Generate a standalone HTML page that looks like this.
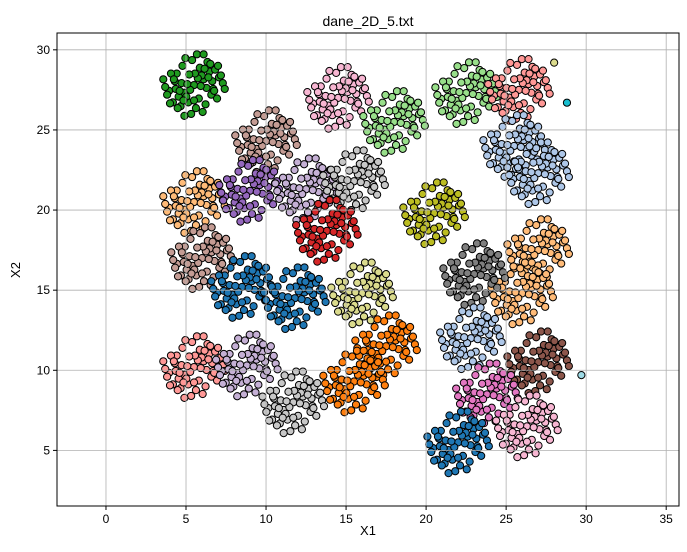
<!DOCTYPE html>
<html><head><meta charset="utf-8"><style>
body{margin:0;background:#fff;}
svg text{font-family:"Liberation Sans","DejaVu Sans",sans-serif;fill:#000;}
</style></head><body>
<svg id="chart" width="687" height="547" xmlns="http://www.w3.org/2000/svg">
<rect width="687" height="547" fill="#fff"/>
<g id="points"></g>
<g id="grid"></g>
<rect x="57" y="33" width="622" height="473" fill="none" stroke="#000" stroke-width="1"/>
<g id="ticks"></g>
<text x="368" y="26" font-size="14" text-anchor="middle">dane_2D_5.txt</text>
<text x="368" y="535" font-size="13" text-anchor="middle">X1</text>
<text x="20" y="270" font-size="13" text-anchor="middle" transform="rotate(-90 20 270)">X2</text>
</svg>
<script>
const xTicks=[0,5,10,15,20,25,30,35];
const yTicks=[5,10,15,20,25,30];
const clusterX=[5.5,14.5,18,22.5,25.8,10,25.5,27,5.5,9,12.5,15.5,20.5,13.8,6,27,26,23,8.5,11.8,16,22.8,17.5,15.5,5.5,8.8,11.7,27,23.8,22,26.3];
const clusterY=[27.8,27,25.5,27.3,27.5,24.3,24,22.3,20.5,21.2,21.3,21.8,19.8,18.7,17,17.5,14.8,16,15.2,14.5,14.8,12,11.5,9.3,10.2,10.3,8,10.5,8.5,5.5,6.5];
const clusterColor=["#1f9a1f","#f7b6d2","#98df8a","#98df8a","#ff9896","#c49c94","#aec7e8","#aec7e8","#ffbb78","#9467bd","#c5b0d5","#c7c7c7","#bcbd22","#d62728","#c49c94","#ffbb78","#ffbb78","#7f7f7f","#1f77b4","#1f77b4","#dbdb8d","#aec7e8","#ff7f0e","#ff7f0e","#ff9896","#c5b0d5","#c7c7c7","#8c564b","#e377c2","#1f77b4","#f7b6d2"];
const offX=[0,0.5,-0.5,1,-1,0.3,-0.3,0.8,-0.8,1.3,-1.3,0.1,-0.1,0.6,-0.6,1.1,-1.1,0.4,-0.4,0.9,-0.9,1.5,-1.5,0.2,-0.2,0.7,-0.7,1.2,-1.2,0.05,0.45,-0.45,0.85,-0.85,1.05,-1.05,0.25,-0.25,0.65,-0.65,1.4,-1.4,0.15,-0.15,0.55,-0.55,0.95,-0.95,0.35,-0.35,0.75,-0.75,1.25,-1.25,0,1.6,-1.6,0.5,-0.5];
const offY=[0,0.3,-0.4,-0.2,0.2,0.9,-0.9,0.7,-0.6,0.4,-0.3,-1.2,1.3,-1,1,0.8,-0.9,0.5,-0.6,-0.5,0.6,0.1,-0.1,0.35,-0.25,1.2,-1.1,-0.7,0.6,0.6,-1.4,1.4,1.1,-1.2,-0.3,0.3,-0.7,0.55,-0.15,0.1,0.5,-0.5,1.6,-1.5,0.85,-0.8,0.2,-0.2,-0.05,0.05,0.4,-0.3,1,-0.95,-0.8,-0.2,0.3,1.6,-1.6];
const outX=[28.8,29.7,28];
const outY=[26.7,9.7,29.2];
const outColor=["#17becf","#9edae5","#dbdb8d"];
const SPREAD=1.2;
const X0=57,X1=679,Y0=33,Y1=506,XMIN=-3.06,XMAX=35.8,YMIN=1.53,YMAX=31.05;
const sx=v=>X0+(v-XMIN)/(XMAX-XMIN)*(X1-X0);
const sy=v=>Y1-(v-YMIN)/(YMAX-YMIN)*(Y1-Y0);
const NS="http://www.w3.org/2000/svg";
const grid=document.getElementById('grid'),ticks=document.getElementById('ticks'),pts=document.getElementById('points');
function mk(tag,attrs,parent){const e=document.createElementNS(NS,tag);for(const k in attrs)e.setAttribute(k,attrs[k]);parent.appendChild(e);return e;}
xTicks.forEach(t=>{const x=sx(t);
 const g=mk('line',{x1:x,x2:x,y1:Y0,y2:Y1,stroke:'#b0b0b0','stroke-width':0.8},grid);
 
 
 const tk=mk('line',{x1:x,x2:x,y1:Y1,y2:Y1+4,stroke:'#000'},ticks);
 
 
 const tx=mk('text',{x:x,y:Y1+17,'font-size':12,'text-anchor':'middle'},ticks);tx.textContent=t;
 
 });
yTicks.forEach(t=>{const y=sy(t);
 const g=mk('line',{x1:X0,x2:X1,y1:y,y2:y,stroke:'#b0b0b0','stroke-width':0.8},grid);
 
 
 const tk=mk('line',{x1:X0-4,x2:X0,y1:y,y2:y,stroke:'#000'},ticks);
 
 
 const tx=mk('text',{x:X0-7,y:y+4,'font-size':12,'text-anchor':'end'},ticks);tx.textContent=t;
 
 });
clusterX.forEach((cx,i)=>{const cy=clusterY[i];
 offX.forEach((dx,j)=>{const dy=offY[j];
  const c=mk('circle',{cx:sx(cx+dx*SPREAD),cy:sy(cy+dy*SPREAD),r:3.6,fill:clusterColor[i],stroke:'#000','stroke-width':1},pts);
  
  });});
outX.forEach((x,i)=>{const c=mk('circle',{cx:sx(x),cy:sy(outY[i]),r:3.6,fill:outColor[i],stroke:'#000','stroke-width':1},pts);
 
 });
</script>
</body></html>
